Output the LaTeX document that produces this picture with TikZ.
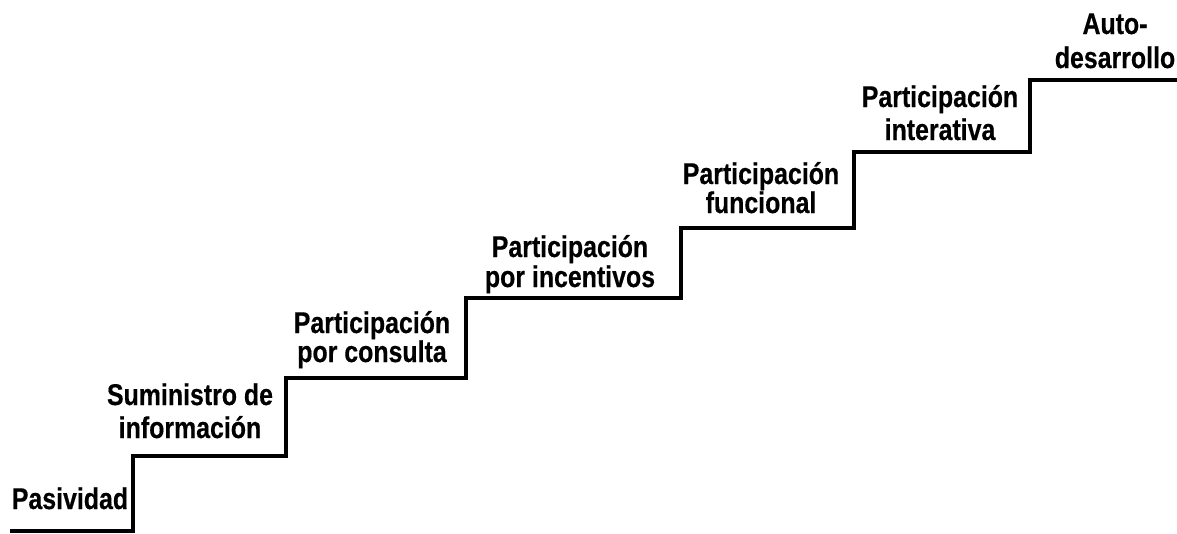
\documentclass[tikz,border=0pt]{standalone}
\usepackage{fontspec}
\setmainfont{Liberation Sans}[FakeStretch=0.83, BoldFeatures={FakeBold=0.4}]
\begin{document}
\begin{tikzpicture}[x=1pt,y=-1pt,
  stairline/.style={line width=3.5pt, line join=miter, black},
  stepLabel/.style={font=\bfseries\fontsize{30}{29}\selectfont, align=center, inner sep=0pt, anchor=base}]
\useasboundingbox (0,0) rectangle (1177,533);
\draw[stairline] (10,531) -- (133,531) -- (133,456) -- (286,456) -- (286,378) -- (466,378)
  -- (466,298) -- (681,298) -- (681,228) -- (854,228) -- (854,152) -- (1030,152) -- (1030,80) -- (1177,80);
\node[stepLabel] (l1) at (70,509) {Pasividad};
\node[stepLabel] (l2) at (190,438) {Suministro de\\[4pt]información};
\node[stepLabel] (l3) at (372,362) {Participación\\por consulta};
\node[stepLabel] (l4) at (570,287) {Participación\\[1pt]por incentivos};
\node[stepLabel] (l5) at (761,213) {Participación\\funcional};
\node[stepLabel] (l6) at (940,140) {Participación\\[4pt]interativa};
\node[stepLabel] (l7) at (1115,68) {Auto-\\[5pt]desarrollo};
\end{tikzpicture}
\end{document}
